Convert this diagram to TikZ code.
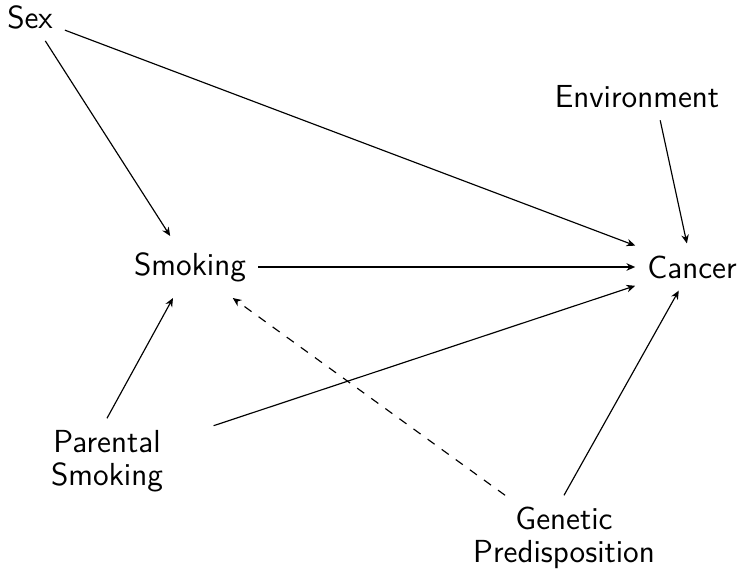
\documentclass[tikz,border=0pt]{standalone}
\usetikzlibrary{arrows.meta}
\begin{document}
\begin{tikzpicture}[x=0.345pt,y=-0.345pt,
  var/.style={font=\fontsize{11}{11.2}\selectfont\sffamily, align=center, inner sep=4pt},
  causal/.style={-{Stealth[length=3pt,width=2.6pt]}, line width=0.4pt},
  latent/.style={causal, dashed}]
  \useasboundingbox (0,0) rectangle (739,569);

  % variables
  \node[var] (sex)  at (30,17)   {Sex};
  \node[var] (env)  at (637,97)  {Environment};
  \node[var, minimum height=21pt] (smk) at (190,267) {Smoking};
  \node[var] (can)  at (692,267) {Cancer};
  \node[var] (par)  at (107,461) {Parental\\Smoking};
  \node[var] (gen)  at (564,538) {Genetic\\Predisposition};

  % causal links
  \draw[causal] (sex) -- (smk);
  \draw[causal] (sex) -- (can);
  \draw[causal] ([xshift=8pt]env.south) -- (can);
  \draw[causal] (smk) -- (can);
  \draw[causal] (par.north) -- (smk);
  \draw[causal, shorten <=14pt] (par) -- (can);
  \draw[causal] (gen.north) -- (can);
  \draw[latent] (gen) -- (smk);
\end{tikzpicture}
\end{document}
